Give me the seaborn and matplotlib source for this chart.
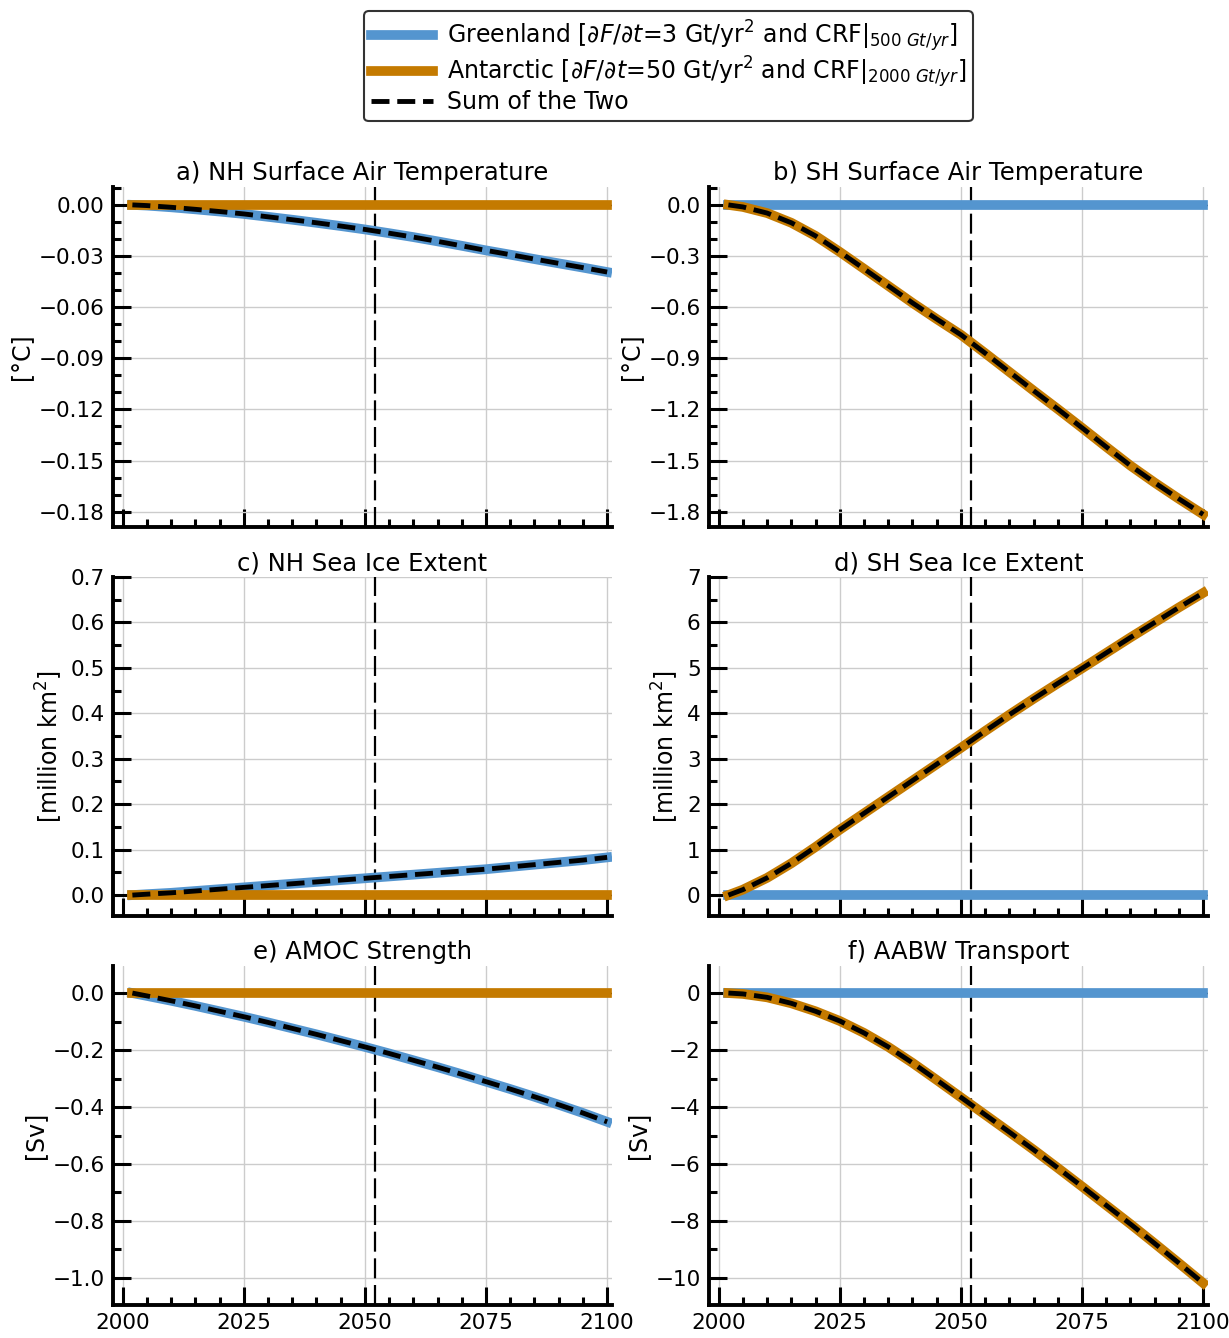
import numpy as np
import pandas as pd
import matplotlib
matplotlib.use("Agg")
import matplotlib.pyplot as plt
import seaborn as sns
from matplotlib.ticker import MultipleLocator

# ---------------- data ----------------
years = [2002, 2005, 2010, 2015, 2020, 2025, 2030, 2035, 2040, 2045, 2050,
         2055, 2060, 2065, 2070, 2075, 2080, 2085, 2090, 2095, 2100]

# a) NH surface air temperature [°C]
nh_sat_greenland = [0.0, -0.0004, -0.0014, -0.0026, -0.0039, -0.0053, -0.0070, -0.0087,
                    -0.0105, -0.0124, -0.0144, -0.0166, -0.0189, -0.0214, -0.0240,
                    -0.0267, -0.0292, -0.0318, -0.0343, -0.0368, -0.0394]
nh_sat_antarctic = [0.0] * 21

# b) SH surface air temperature [°C]
sh_sat_greenland = [0.0] * 21
sh_sat_antarctic = [0.0, -0.012, -0.048, -0.105, -0.182, -0.276, -0.375, -0.475, -0.575,
                    -0.670, -0.762, -0.870, -0.980, -1.090, -1.198, -1.308, -1.420,
                    -1.530, -1.630, -1.725, -1.816]

# c) NH sea ice extent [million km2]
nh_ice_greenland = [0.0, 0.002, 0.005, 0.009, 0.013, 0.017, 0.021, 0.025, 0.029, 0.033,
                    0.037, 0.041, 0.045, 0.049, 0.053, 0.057, 0.062, 0.067, 0.072,
                    0.077, 0.083]
nh_ice_antarctic = [0.0] * 21

# d) SH sea ice extent [million km2]
sh_ice_greenland = [0.0] * 21
sh_ice_antarctic = [0.0, 0.12, 0.38, 0.70, 1.06, 1.44, 1.80, 2.16, 2.52, 2.88, 3.24,
                    3.61, 3.97, 4.32, 4.66, 4.99, 5.33, 5.67, 6.00, 6.33, 6.65]

# e) AMOC strength [Sv]
amoc_greenland = [0.0, -0.010, -0.027, -0.045, -0.064, -0.083, -0.103, -0.124, -0.145,
                  -0.167, -0.189, -0.212, -0.236, -0.260, -0.285, -0.311, -0.337,
                  -0.364, -0.392, -0.421, -0.452]
amoc_antarctic = [0.0] * 21

# f) AABW transport [Sv]
aabw_greenland = [0.0] * 21
aabw_antarctic = [0.0, -0.03, -0.15, -0.36, -0.64, -0.98, -1.40, -1.89, -2.45, -3.05,
                  -3.66, -4.27, -4.88, -5.50, -6.14, -6.79, -7.45, -8.11, -8.79,
                  -9.48, -10.18]

titles = ["a) NH Surface Air Temperature", "b) SH Surface Air Temperature",
          "c) NH Sea Ice Extent", "d) SH Sea Ice Extent",
          "e) AMOC Strength", "f) AABW Transport"]
ylabels = ["[°C]", "[°C]", r"[million km$^2$]", r"[million km$^2$]", "[Sv]", "[Sv]"]
greenland_series = [nh_sat_greenland, sh_sat_greenland, nh_ice_greenland,
                    sh_ice_greenland, amoc_greenland, aabw_greenland]
antarctic_series = [nh_sat_antarctic, sh_sat_antarctic, nh_ice_antarctic,
                    sh_ice_antarctic, amoc_antarctic, aabw_antarctic]
ylims = [(-0.189, 0.0105), (-1.89, 0.105), (-0.046, 0.70), (-0.46, 7.0),
         (-1.095, 0.095), (-10.95, 0.95)]
major_steps = [0.03, 0.3, 0.1, 1, 0.2, 2]
minor_steps = [0.01, 0.1, 0.05, 0.5, 0.1, 1]
xticks = [2000, 2025, 2050, 2075, 2100]
event_year = 2052

legend_labels = [
    r"Greenland [$\partial F/\partial t$=3 Gt/yr$^2$ and CRF$|_{500\ Gt/yr}$]",
    r"Antarctic [$\partial F/\partial t$=50 Gt/yr$^2$ and CRF$|_{2000\ Gt/yr}$]",
    "Sum of the Two",
]

BLUE = "#5495cf"
ORANGE = "#c47a00"

# ---------------- style ----------------
sns.set_style("ticks")
plt.rcParams["font.family"] = ["DejaVu Sans"]
plt.rcParams.update({
    "xtick.direction": "in", "ytick.direction": "in",
    "axes.edgecolor": "black", "text.color": "black",
    "axes.labelcolor": "black", "xtick.color": "black", "ytick.color": "black",
    "xtick.labelcolor": "black", "ytick.labelcolor": "black",
})

fig = plt.figure(figsize=(12.29, 13.38), dpi=100)
W, H = 1229.0, 1338.0
lefts = [113, 709]
width = 499
rows = [(187, 527), (577, 916), (966, 1305)]

axes = []
for i in range(6):
    r, c = divmod(i, 2)
    top, bot = rows[r]
    ax = fig.add_axes([lefts[c] / W, 1 - bot / H, width / W, (bot - top) / H])
    axes.append(ax)

    ax.grid(True, color="#cccccc", lw=1.0, zorder=0)
    ax.set_axisbelow(True)
    ax.axhline(0, color="black", lw=1.0, zorder=1)
    ax.axvline(event_year, color="black", lw=1.6, linestyle=(0, (9, 3)), zorder=1.5)

    g = np.array(greenland_series[i])
    a = np.array(antarctic_series[i])
    sns.lineplot(x=years, y=g, ax=ax, color=BLUE, lw=7, zorder=2,
                 solid_capstyle="projecting")
    sns.lineplot(x=years, y=a, ax=ax, color=ORANGE, lw=7, zorder=3,
                 solid_capstyle="projecting")
    sns.lineplot(x=years, y=g + a, ax=ax, color="black", lw=3.5,
                 linestyle="--", zorder=4)

    ax.set_xlim(1998, 2101)
    ax.set_xticks(xticks)
    ax.xaxis.set_minor_locator(MultipleLocator(5))
    ax.yaxis.set_major_locator(MultipleLocator(major_steps[i]))
    ax.yaxis.set_minor_locator(MultipleLocator(minor_steps[i]))
    ax.set_ylim(*ylims[i])

    ax.tick_params(which="major", direction="in", length=13, width=2.2,
                   labelsize=15.5, color="black", labelcolor="black", pad=6)
    ax.tick_params(which="minor", direction="in", length=6, width=2.2, color="black")
    if r < 2:
        ax.tick_params(axis="x", which="both", labelbottom=False)

    for side in ["top", "right"]:
        ax.spines[side].set_visible(False)
    for side in ["left", "bottom"]:
        ax.spines[side].set_linewidth(2.8)

    ax.set_title(titles[i], fontsize=17.5, pad=5, color="black")
    ax.set_ylabel(ylabels[i], fontsize=17, color="black")
    ax.set_xlabel("")

handles = axes[0].get_lines()[2:5]
leg = fig.legend(handles, legend_labels, loc="upper center",
                 bbox_to_anchor=(0.544, 0.9915), fontsize=17, frameon=True,
                 handlelength=2.6, framealpha=1, fancybox=True,
                 borderpad=0.3, labelspacing=0.0, borderaxespad=0.0,
                 handletextpad=0.6)
leg.get_frame().set_edgecolor("#333333")
leg.get_frame().set_linewidth(1.5)

fig.savefig("out.png", dpi=100)
